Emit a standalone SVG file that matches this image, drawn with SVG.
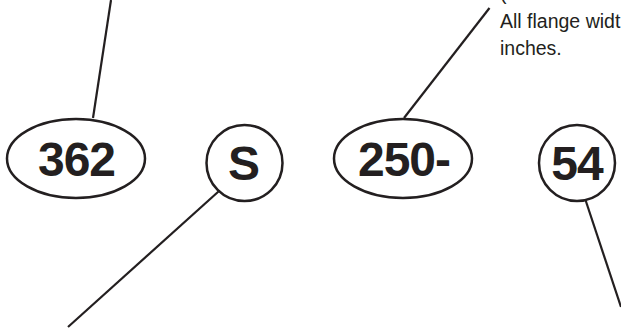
<svg xmlns="http://www.w3.org/2000/svg" width="621" height="329" viewBox="0 0 621 329">
<style>
.shape{fill:#fff;stroke:#231f20;stroke-width:2.5}
.lead{stroke:#231f20;stroke-width:2.2;fill:none;stroke-linecap:butt}
.big{font-family:"Liberation Sans",Arial,sans-serif;font-weight:bold;font-size:48px;fill:#231f20;text-anchor:middle;letter-spacing:-1px}
.note{font-family:"Liberation Sans",Arial,sans-serif;font-size:19.5px;fill:#231f20}
</style>
<rect width="621" height="329" fill="#fff"/>
<g id="connectors">
<line class="lead" x1="111" y1="0" x2="93" y2="118"/>
<line class="lead" x1="489.5" y1="8" x2="404" y2="118"/>
<line class="lead" x1="218.5" y1="191.5" x2="68" y2="327"/>
<line class="lead" x1="585.5" y1="200" x2="621" y2="307"/>
</g>
<g id="node-362">
<ellipse class="shape" cx="76" cy="158.5" rx="69" ry="39.5"/>
<text class="big" x="76.5" y="176">362</text>
</g>
<g id="node-S">
<circle class="shape" cx="244.5" cy="163" r="38"/>
<text class="big" x="243.5" y="180">S</text>
</g>
<g id="node-250">
<ellipse class="shape" cx="403" cy="158.5" rx="69" ry="39.5"/>
<text class="big" x="404" y="176">250-</text>
</g>
<g id="node-54">
<circle class="shape" cx="577" cy="163" r="38"/>
<text class="big" x="577" y="180">54</text>
</g>
<g id="note">
<text class="note" x="500" y="0">(</text>
<text class="note" x="500" y="27.5">All flange widt</text>
<text class="note" x="500" y="54.5">inches.</text>
</g>
</svg>
